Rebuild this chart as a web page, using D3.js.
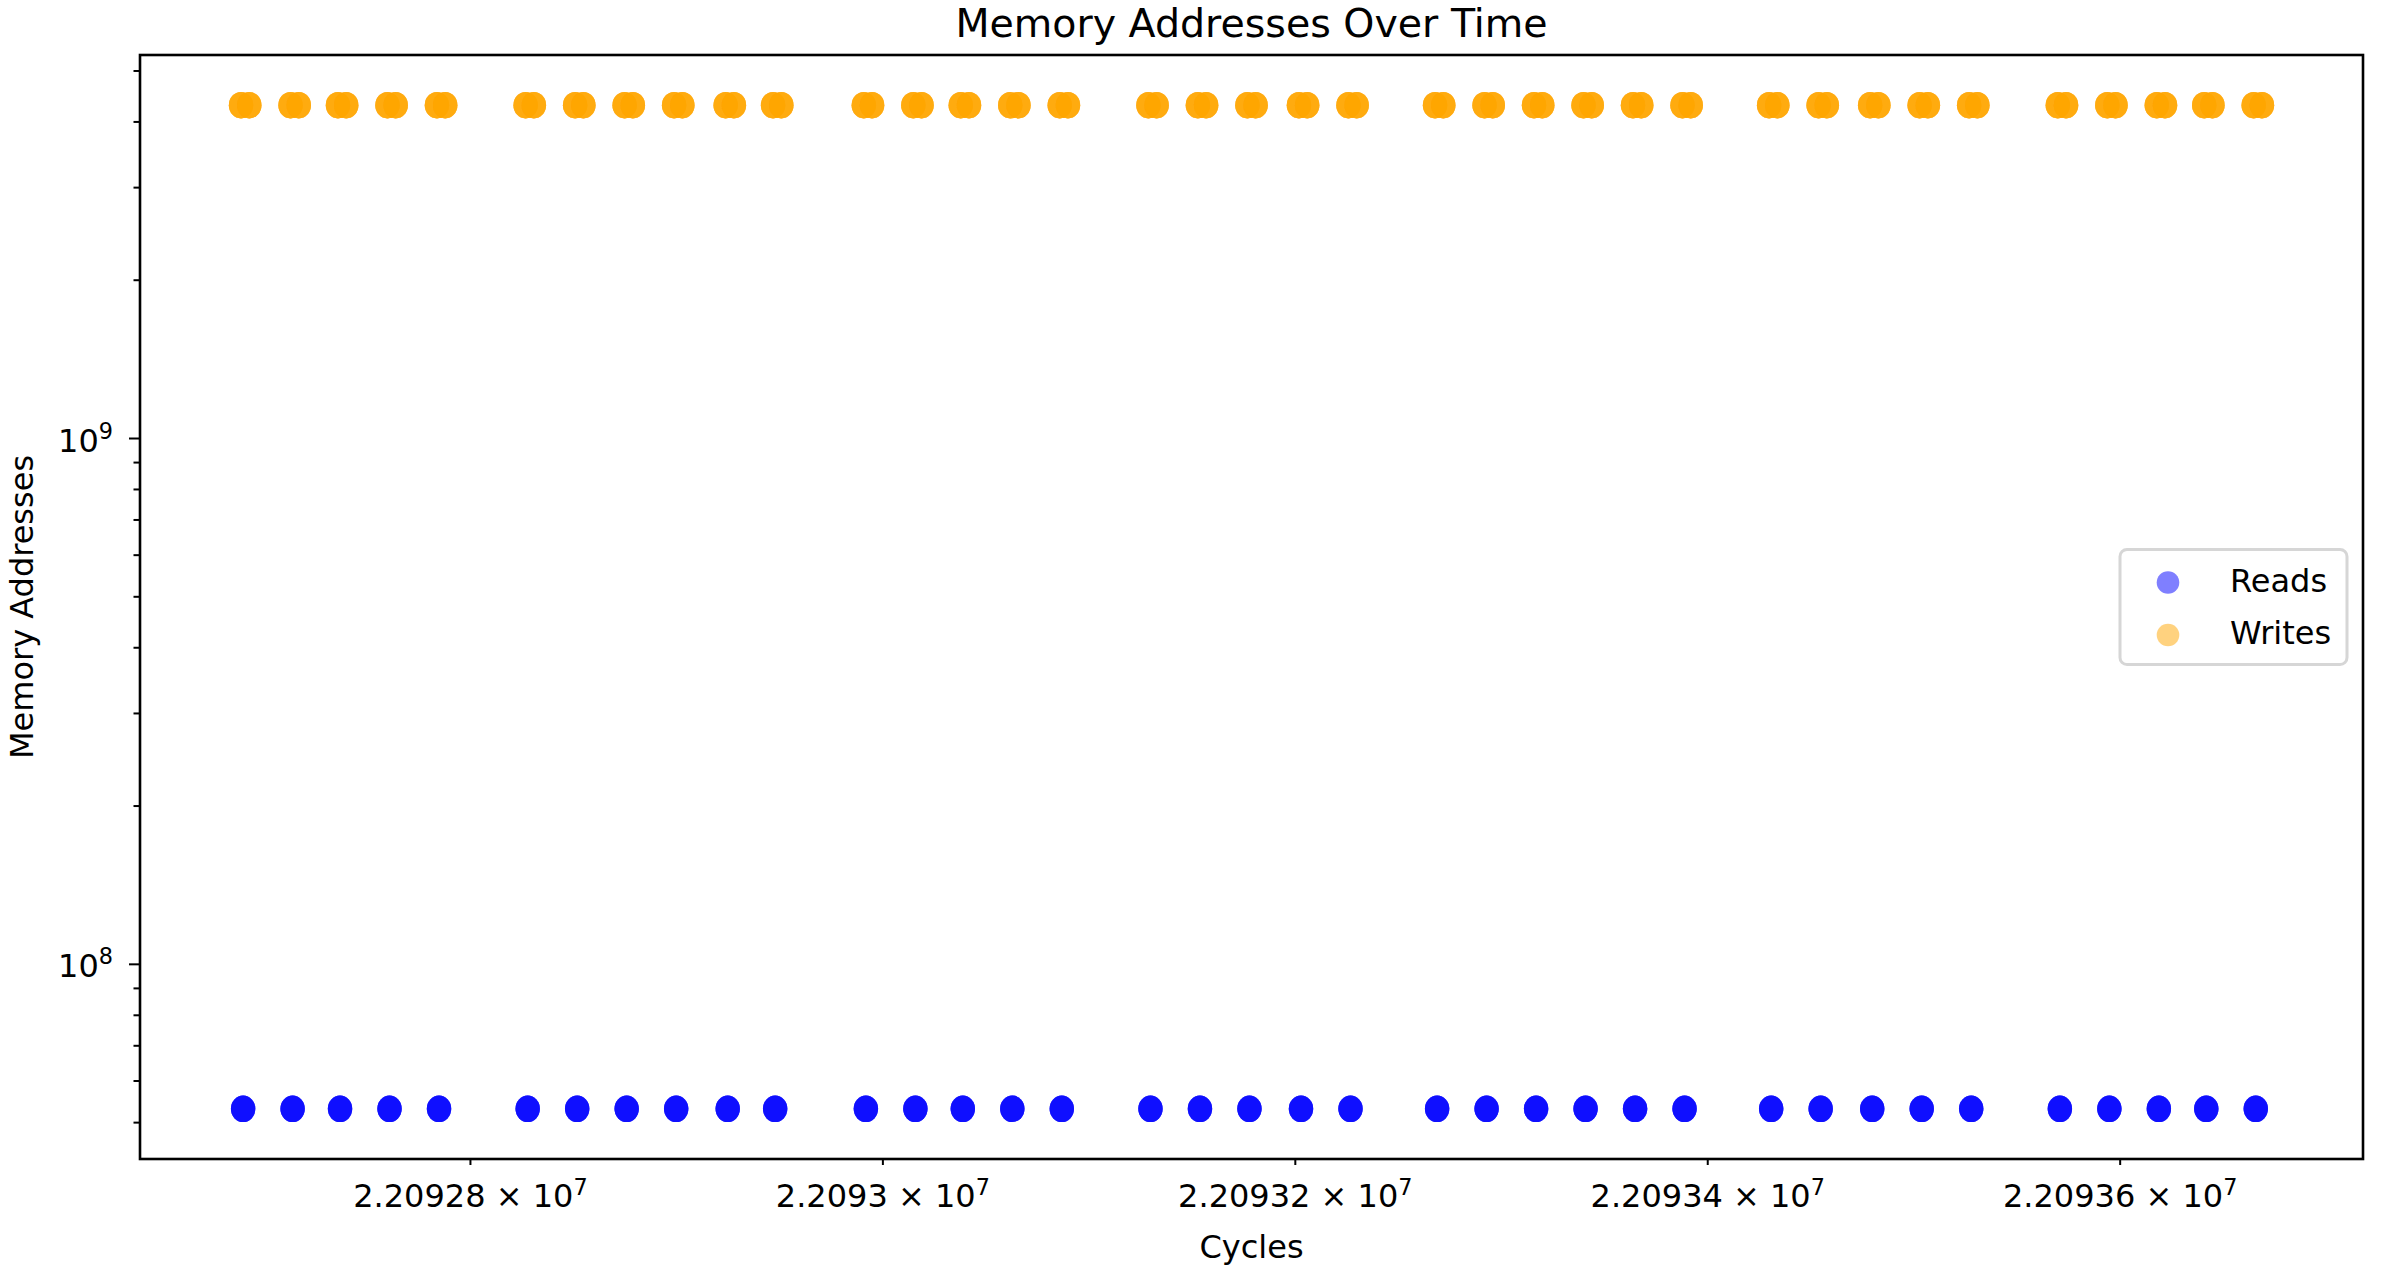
<!DOCTYPE html>
<html>
<head>
<meta charset="utf-8">
<script src="https://cdn.jsdelivr.net/npm/d3@7"></script>
<style>
  body { margin: 0; background: #fff; }
  text { font-family: "DejaVu Sans", sans-serif; fill: #000; }
</style>
</head>
<body>
<svg id="chart"></svg>
<script>
// cycles (log scale, ~2.06 px per cycle)
const readCycles = [
  22092690, 22092714, 22092737, 22092761, 22092785,
  22092828, 22092852, 22092876, 22092900, 22092925, 22092948,
  22092992, 22093016, 22093039, 22093063, 22093087,
  22093130, 22093154, 22093178, 22093203, 22093227,
  22093269, 22093293, 22093317, 22093341, 22093365, 22093389,
  22093431, 22093455, 22093480, 22093504, 22093528,
  22093571, 22093595, 22093619, 22093642, 22093666
];
// writes come in pairs a few cycles apart, so the orange blobs look wider
const writeCycles = [
  22092689, 22092693, 22092713, 22092717, 22092736, 22092740, 22092760, 22092764, 22092784, 22092788,
  22092827, 22092831, 22092851, 22092855, 22092875, 22092879, 22092899, 22092903, 22092924, 22092928, 22092947, 22092951,
  22092991, 22092995, 22093015, 22093019, 22093038, 22093042, 22093062, 22093066, 22093086, 22093090,
  22093129, 22093133, 22093153, 22093157, 22093177, 22093181, 22093202, 22093206, 22093226, 22093230,
  22093268, 22093272, 22093292, 22093296, 22093316, 22093320, 22093340, 22093344, 22093364, 22093368, 22093388, 22093392,
  22093430, 22093434, 22093454, 22093458, 22093479, 22093483, 22093503, 22093507, 22093527, 22093531,
  22093570, 22093574, 22093594, 22093598, 22093618, 22093622, 22093641, 22093645, 22093665, 22093669
];
const readAddress = 53000000;
const writeAddress = 4294967296;
// every dot is several accesses stacked on top of each other
const accessesPerPoint = 4;

const seriesNames = ["Reads", "Writes"];
const seriesColors = ["#0000ff", "#ffa500"];

const xTickValues = [22092800, 22093000, 22093200, 22093400, 22093600];
const xTickMantissas = ["2.20928", "2.2093", "2.20932", "2.20934", "2.20936"];
const xTickExponent = "7";
const yMajorTicks = [1e8, 1e9];
const yMajorExponents = ["8", "9"];

const W = 2392, H = 1277;
const margin = {top: 55, right: 29, bottom: 118, left: 140};
const width = W - margin.left - margin.right,
  height = H - margin.top - margin.bottom;
const fontSize = 32;

// matplotlib style 5% padding, done in log space
function logPad(ext, frac) {
  let a = Math.log10(ext[0]), b = Math.log10(ext[1]), m = (b - a) * frac;
  return [Math.pow(10, a - m), Math.pow(10, b + m)];
}

let svg = d3.select("#chart").attr("width", W).attr("height", H),
  g = svg.append("g").attr("transform", "translate(" + margin.left + "," + margin.top + ")");

let allCycles = readCycles.concat(writeCycles);
let x = d3.scaleLog()
  .domain(logPad(d3.extent(allCycles), 0.05))
  .range([0, width]);
let y = d3.scaleLog()
  .domain(logPad([readAddress, writeAddress], 0.05))
  .range([height, 0]);

// points
let series = [
  {cycles: readCycles, address: readAddress, color: seriesColors[0]},
  {cycles: writeCycles, address: writeAddress, color: seriesColors[1]}
];
series.forEach(s => {
  let pts = s.cycles.flatMap(c => d3.range(accessesPerPoint).map(() => c));
  g.append("g").selectAll("ellipse")
    .data(pts)
    .join("ellipse")
    .attr("cx", d => x(d))
    .attr("cy", y(s.address))
    .attr("rx", 12.2)
    .attr("ry", 13.2)
    .attr("fill", s.color)
    .attr("fill-opacity", 0.5);
});

// x axis
let xAxis = g.append("g")
  .attr("transform", "translate(0," + height + ")")
  .call(d3.axisBottom(x).tickValues(xTickValues).tickSize(6).tickFormat(""));
xAxis.select(".domain").remove();
xAxis.selectAll(".tick line").attr("stroke", "#000").attr("stroke-width", 2);
xAxis.selectAll(".tick").each(function(d, i) {
  let t = d3.select(this).append("text")
    .attr("y", 48)
    .attr("text-anchor", "middle")
    .attr("font-size", fontSize)
    .attr("fill", "#000");
  t.append("tspan").text(xTickMantissas[i] + " \u00d7 10");
  t.append("tspan").attr("dy", -12).attr("font-size", fontSize * 0.7).text(xTickExponent);
});

// y axis, majors and minors
let yAxis = g.append("g")
  .call(d3.axisLeft(y).tickValues(yMajorTicks).tickSize(11).tickFormat(""));
let yMinor = y.ticks().filter(t => Math.abs(Math.log10(t) - Math.round(Math.log10(t))) > 1e-6);
g.append("g")
  .attr("class", "minor")
  .call(d3.axisLeft(y).tickValues(yMinor).tickSize(6.5).tickFormat(""))
  .select(".domain").remove();
yAxis.select(".domain").remove();
g.selectAll(".tick line").attr("stroke", "#000").attr("stroke-width", 2);
yAxis.selectAll(".tick").each(function(d, i) {
  let t = d3.select(this).append("text")
    .attr("x", -27)
    .attr("y", 13)
    .attr("text-anchor", "end")
    .attr("font-size", fontSize)
    .attr("fill", "#000");
  t.append("tspan").text("10");
  t.append("tspan").attr("dy", -13).attr("font-size", fontSize * 0.7).text(yMajorExponents[i]);
});

// frame
g.append("rect")
  .attr("width", width)
  .attr("height", height)
  .attr("fill", "none")
  .attr("stroke", "#000")
  .attr("stroke-width", 2.6);

// legend, center right
let lw = 227, lh = 115;
let legend = g.append("g")
  .attr("transform", "translate(" + (width - 16 - lw) + "," + (height / 2 - lh / 2) + ")");
legend.append("rect")
  .attr("width", lw)
  .attr("height", lh)
  .attr("rx", 7)
  .attr("fill", "#fff")
  .attr("fill-opacity", 0.8)
  .attr("stroke", "#d6d6d6")
  .attr("stroke-width", 3);
seriesNames.forEach((name, i) => {
  let cy = 33 + i * 52.5;
  legend.append("circle")
    .attr("cx", 48)
    .attr("cy", cy)
    .attr("r", 11.3)
    .attr("fill", seriesColors[i])
    .attr("fill-opacity", 0.5);
  legend.append("text")
    .attr("x", 110)
    .attr("y", cy + 9)
    .attr("font-size", fontSize)
    .text(name);
});

// titles
svg.append("text")
  .attr("x", margin.left + width / 2)
  .attr("y", 37)
  .attr("text-anchor", "middle")
  .attr("font-size", 39.5)
  .text("Memory Addresses Over Time");

svg.append("text")
  .attr("x", margin.left + width / 2)
  .attr("y", 1258)
  .attr("text-anchor", "middle")
  .attr("font-size", fontSize)
  .text("Cycles");

svg.append("text")
  .attr("transform", "translate(33," + (margin.top + height / 2) + ") rotate(-90)")
  .attr("text-anchor", "middle")
  .attr("font-size", fontSize)
  .text("Memory Addresses");
</script>
</body>
</html>
